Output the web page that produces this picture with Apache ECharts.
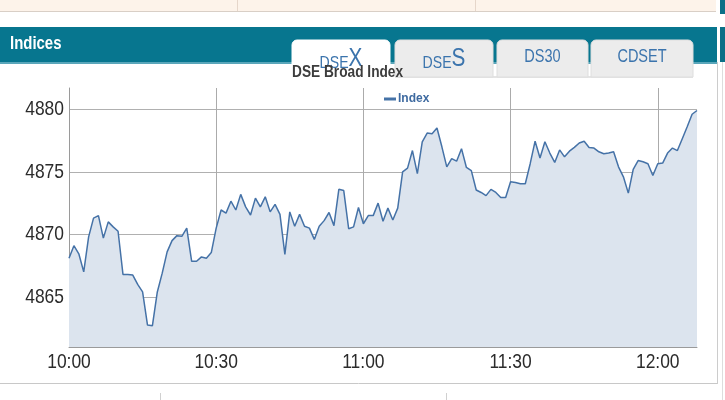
<!DOCTYPE html>
<html>
<head>
<meta charset="utf-8">
<script src="https://cdn.jsdelivr.net/npm/echarts@6/dist/echarts.min.js"></script>
<style>
html,body{margin:0;padding:0;background:#fff;}
#chart{width:725px;height:400px;}
</style>
</head>
<body>
<div id="chart"></div>
<script>
// ---- data ----
const chartTitle = "DSE Broad Index";
const seriesName = "Index";
const tabLabels = ["DSEX", "DSES", "DS30", "CDSET"];
const yTicks = [4865, 4870, 4875, 4880];
const xTickLabels = ["10:00", "10:30", "11:00", "11:30", "12:00"];
const times = [
 "10:00","10:01","10:02","10:03","10:04","10:05","10:06","10:07","10:08","10:09",
 "10:10","10:11","10:12","10:13","10:14","10:15","10:16","10:17","10:18","10:19",
 "10:20","10:21","10:22","10:23","10:24","10:25","10:26","10:27","10:28","10:29",
 "10:30","10:31","10:32","10:33","10:34","10:35","10:36","10:37","10:38","10:39",
 "10:40","10:41","10:42","10:43","10:44","10:45","10:46","10:47","10:48","10:49",
 "10:50","10:51","10:52","10:53","10:54","10:55","10:56","10:57","10:58","10:59",
 "11:00","11:01","11:02","11:03","11:04","11:05","11:06","11:07","11:08","11:09",
 "11:10","11:11","11:12","11:13","11:14","11:15","11:16","11:17","11:18","11:19",
 "11:20","11:21","11:22","11:23","11:24","11:25","11:26","11:27","11:28","11:29",
 "11:30","11:31","11:32","11:33","11:34","11:35","11:36","11:37","11:38","11:39",
 "11:40","11:41","11:42","11:43","11:44","11:45","11:46","11:47","11:48","11:49",
 "11:50","11:51","11:52","11:53","11:54","11:55","11:56","11:57","11:58","11:59",
 "12:00","12:01","12:02","12:03","12:04","12:05","12:06","12:07","12:08"
];
const indexValues = [
 4868.1,4869.1,4868.45,4867.0,4869.8,4871.3,4871.5,4869.7,4871.0,4870.6,
 4870.25,4866.8,4866.8,4866.75,4866.0,4865.4,4862.75,4862.7,4865.4,4866.9,
 4868.6,4869.5,4869.9,4869.85,4870.5,4867.85,4867.85,4868.2,4868.1,4868.55,
 4870.5,4871.95,4871.7,4872.65,4871.95,4873.2,4872.2,4871.55,4872.9,4872.2,
 4873.0,4871.8,4872.4,4871.6,4868.4,4871.8,4870.65,4871.6,4870.65,4870.5,
 4869.6,4870.65,4871.1,4871.75,4870.7,4873.6,4873.5,4870.45,4870.6,4872.15,
 4870.85,4871.5,4871.5,4872.5,4871.05,4872.1,4871.15,4872.1,4875.0,4875.3,
 4876.7,4874.85,4877.4,4878.1,4878.05,4878.5,4877.0,4875.4,4876.05,4875.85,
 4876.85,4875.35,4875.1,4873.55,4873.35,4873.1,4873.6,4873.35,4872.95,4872.95,
 4874.2,4874.15,4874.05,4874.05,4875.65,4877.45,4876.1,4877.4,4876.5,4875.75,
 4876.75,4876.2,4876.65,4876.95,4877.3,4877.45,4876.95,4876.9,4876.6,4876.45,
 4876.5,4876.6,4875.4,4874.6,4873.3,4875.2,4875.9,4875.8,4875.65,4874.7,
 4875.65,4875.7,4876.5,4876.9,4876.7,4877.65,4878.6,4879.6,4879.9
];
const yMin = 4861.0, yMax = 4881.7;

// ---- chart ----
const FONT = "'Liberation Sans', Arial, sans-serif";
const SX = 0.83; // horizontal squeeze to mimic the narrow lettering
const chart = echarts.init(document.getElementById('chart'), null, {renderer:'canvas'});

const tabX = [292, 395, 497, 591];
const tabW = [98, 98, 91, 102];
const tabGraphics = [];
tabLabels.forEach((t, i) => {
  const active = i === 0;
  const split = (t === 'DSEX' || t === 'DSES');
  tabGraphics.push({
    type: 'rect', z: 10,
    shape: {x: tabX[i], y: 40, width: tabW[i], height: active ? 40 : 37, r: [5,5,0,0]},
    style: {fill: active ? '#ffffff' : '#ececec', stroke: active ? '#ffffff' : '#dedede', lineWidth: 1}
  });
  let txt, rich = {};
  if (split) {
    txt = '{a|DSE}{b|' + t.slice(3) + '}';
    rich = {
      a: {fontSize: 17, fontFamily: FONT, fill: '#3b74ad', verticalAlign: 'bottom', lineHeight: 26},
      b: {fontSize: 25, fontFamily: FONT, fill: '#3b74ad', verticalAlign: 'bottom', lineHeight: 26}
    };
  } else {
    txt = t;
  }
  tabGraphics.push({
    type: 'text', z: 11,
    x: tabX[i] + tabW[i] / 2, y: split ? 59 : 57,
    scaleX: SX,
    style: {text: txt, rich: rich, fontSize: 17.5, fontFamily: FONT, fill: '#3b74ad',
            align: 'center', verticalAlign: 'middle'}
  });
});
tabGraphics.push({type: 'rect', z: 9, shape: {x: 395, y: 76, width: 298, height: 2},
  style: {fill: '#e4e4e4'}});

const option = {
  animation: false,
  backgroundColor: '#ffffff',
  legend: {
    data: [seriesName], left: 379, top: 88,
    icon: 'rect', itemWidth: 12, itemHeight: 3, itemGap: 4,
    textStyle: {fontSize: 12, fontWeight: 'bold', color: '#3e6aa0', fontFamily: FONT, padding: [0,0,0,-3]}
  },
  grid: {left: 69, right: 28, top: 88, bottom: 53, containLabel: false},
  xAxis: {
    type: 'category', data: times, boundaryGap: false,
    axisLine: {show: true, lineStyle: {color: '#9a9a9a', width: 1}},
    axisTick: {show: false},
    axisLabel: {show: false},
    splitLine: {show: true, interval: (idx, val) => xTickLabels.indexOf(val) > 0,
      lineStyle: {color: '#ababab', width: 1}}
  },
  yAxis: {
    type: 'value', min: yMin, max: yMax, minInterval: 5, maxInterval: 5,
    axisLine: {show: true, lineStyle: {color: '#9a9a9a', width: 1}},
    axisTick: {show: false},
    axisLabel: {show: false},
    splitLine: {show: true, showMinLine: false, showMaxLine: false,
      lineStyle: {color: '#b0b0b0', width: 1}}
  },
  series: [{
    name: seriesName, type: 'line', data: indexValues,
    symbol: 'none', smooth: false,
    lineStyle: {color: '#4572a7', width: 1.5},
    itemStyle: {color: '#4572a7'},
    areaStyle: {color: '#dce4ee', opacity: 1, origin: 'start'}
  }],
  graphic: [
    // top strip
    {type: 'rect', z: 1, shape: {x: 0, y: 0, width: 716, height: 11}, style: {fill: '#fdf3ea'}},
    {type: 'line', z: 2, shape: {x1: 0, y1: 11.5, x2: 716, y2: 11.5}, style: {stroke: '#d9cfc6', lineWidth: 1}},
    {type: 'line', z: 2, shape: {x1: 237.5, y1: 0, x2: 237.5, y2: 11}, style: {stroke: '#e6d6ca', lineWidth: 1}},
    {type: 'line', z: 2, shape: {x1: 475.5, y1: 0, x2: 475.5, y2: 11}, style: {stroke: '#e6d6ca', lineWidth: 1}},
    // right neighbour
    {type: 'rect', z: 1, shape: {x: 720, y: 0, width: 5, height: 14}, style: {fill: '#0b6f87'}},
    {type: 'rect', z: 1, shape: {x: 720, y: 27, width: 5, height: 35}, style: {fill: '#0b6f87'}},
    {type: 'line', z: 2, shape: {x1: 717.5, y1: 62, x2: 717.5, y2: 384}, style: {stroke: '#cccccc', lineWidth: 1}},
    {type: 'line', z: 2, shape: {x1: 722.5, y1: 62, x2: 722.5, y2: 400}, style: {stroke: '#dddddd', lineWidth: 1}},
    // header bar
    {type: 'rect', z: 1, shape: {x: 0, y: 27, width: 717, height: 35}, style: {fill: '#07768f'}},
    {type: 'rect', z: 1, shape: {x: 0, y: 62, width: 717, height: 2}, style: {fill: '#5aa6ba'}},
    {type: 'text', z: 3, x: 10, y: 44, scaleX: SX,
     style: {text: 'Indices', fill: '#ffffff', fontSize: 18, fontWeight: 'bold', fontFamily: FONT, verticalAlign: 'middle'}},
    // panel bottom
    {type: 'line', z: 2, shape: {x1: 0, y1: 383.5, x2: 717, y2: 383.5}, style: {stroke: '#c8c8c8', lineWidth: 1}},
    {type: 'line', z: 2, shape: {x1: 160.5, y1: 393, x2: 160.5, y2: 400}, style: {stroke: '#d0d0d0', lineWidth: 1}},
    {type: 'line', z: 2, shape: {x1: 446.5, y1: 393, x2: 446.5, y2: 400}, style: {stroke: '#d0d0d0', lineWidth: 1}}
  ].concat(tabGraphics).concat([
    // chart title (drawn above the tabs)
    {type: 'text', z: 20, x: 292, y: 72, scaleX: SX,
     style: {text: chartTitle, fill: '#3d3d3d', fontSize: 16.5, fontWeight: 'bold', fontFamily: FONT, verticalAlign: 'middle'}}
  ])
};
chart.setOption(option);

// axis tick labels, placed through the axes' own scales
const labelGraphics = [];
yTicks.forEach(v => {
  const py = chart.convertToPixel({yAxisIndex: 0}, v);
  labelGraphics.push({type: 'text', z: 20, x: 64, y: py, scaleX: SX,
    style: {text: String(v), fill: '#2b2b2b', fontSize: 21, fontFamily: FONT, align: 'right', verticalAlign: 'middle'}});
});
xTickLabels.forEach(t => {
  const px = chart.convertToPixel({xAxisIndex: 0}, t);
  labelGraphics.push({type: 'text', z: 20, x: px, y: 362, scaleX: SX,
    style: {text: t, fill: '#2b2b2b', fontSize: 21, fontFamily: FONT, align: 'center', verticalAlign: 'middle'}});
});
chart.setOption({graphic: option.graphic.concat(labelGraphics)});
</script>
</body>
</html>
